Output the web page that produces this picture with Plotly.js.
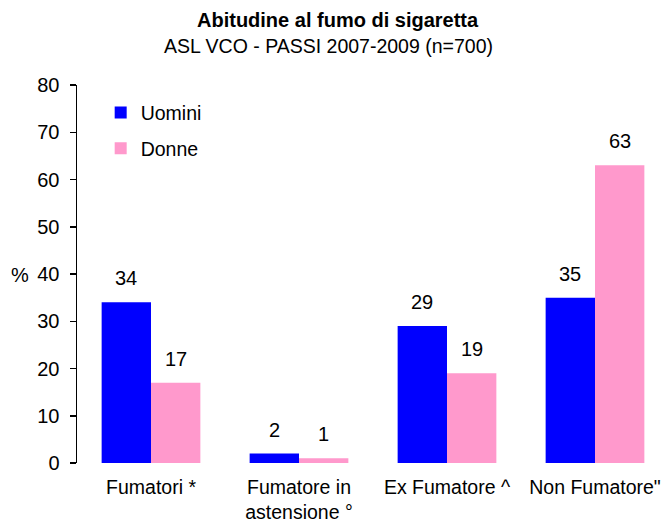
<!DOCTYPE html>
<html><head><meta charset="utf-8">
<script src="https://cdn.plot.ly/plotly-3.0.1.min.js"></script>
<style>body{margin:0;background:#fff}#chart{width:669px;height:522px}</style>
</head><body><div id="chart"></div>
<script>
const categories = ["Fumatori *", "Fumatore in<br>astensione °", "Ex Fumatore ^", "Non Fumatore\""];
const uomini = [34, 2, 29, 35];
const donne = [17, 1, 19, 63];
const seriesNames = ["Uomini", "Donne"];
const titleText = "Abitudine al fumo di sigaretta";
const subtitleText = "ASL VCO - PASSI 2007-2009 (n=700)";

const FONT = "Liberation Sans, Arial, sans-serif";
const colors = ["#0000FF", "#FF99CC"];
const series = [uomini, donne];

const traces = series.map((vals, i) => ({
  type: "bar",
  x: categories,
  y: vals,
  name: seriesNames[i],
  legendgroup: "g" + i,
  marker: {color: colors[i], line: {width: 0}},
  hoverinfo: "skip"
}));

const annotations = [];
series.forEach((vals, i) => {
  vals.forEach((v, j) => {
    annotations.push({
      x: j + (i === 0 ? -1/6 : 1/6), y: v, xref: "x", yref: "y",
      text: String(v), showarrow: false, yanchor: "bottom", yshift: 11,
      font: {family: FONT, size: 20, color: "#000"}
    });
  });
});
annotations.push({xref: "paper", yref: "paper", x: 0.441, y: 1.172, xanchor: "center", yanchor: "middle",
  text: "<b>" + titleText + "</b>", showarrow: false, font: {family: FONT, size: 20, color: "#000"}});
annotations.push({xref: "paper", yref: "paper", x: 0.424, y: 1.104, xanchor: "center", yanchor: "middle",
  text: subtitleText, showarrow: false, font: {family: FONT, size: 19.5, color: "#000"}});
annotations.push({xref: "paper", yref: "paper", x: -0.096, y: 0.497, xanchor: "center", yanchor: "middle",
  text: "%", showarrow: false, font: {family: FONT, size: 20, color: "#000"}});

const layout = {
  width: 669, height: 522,
  margin: {l: 77, r: 0, t: 85, b: 59},
  paper_bgcolor: "#fff", plot_bgcolor: "#fff",
  barmode: "group", bargap: 0.333, bargroupgap: 0,
  font: {family: FONT, size: 20, color: "#000"},
  xaxis: {type: "category", showline: false, ticks: "", showgrid: false, zeroline: false,
    tickfont: {family: FONT, size: 19.5, color: "#000"}, ticklabelstandoff: 10, fixedrange: true},
  yaxis: {range: [0, 80], dtick: 10, showline: true, linecolor: "#000", linewidth: 1.5,
    ticks: "outside", ticklen: 6, tickwidth: 1.5, tickcolor: "#000", showgrid: false, zeroline: false,
    tickfont: {family: FONT, size: 20, color: "#000"}, ticklabelstandoff: 6, fixedrange: true},
  showlegend: true,
  legend: {x: 0.04, y: 0.978, xanchor: "left", yanchor: "top", bgcolor: "rgba(0,0,0,0)",
    font: {family: FONT, size: 19.5, color: "#000"}, tracegroupgap: 7.5, itemwidth: 30},
  annotations: annotations
};
Plotly.newPlot("chart", traces, layout, {displayModeBar: false, staticPlot: true});
</script></body></html>
